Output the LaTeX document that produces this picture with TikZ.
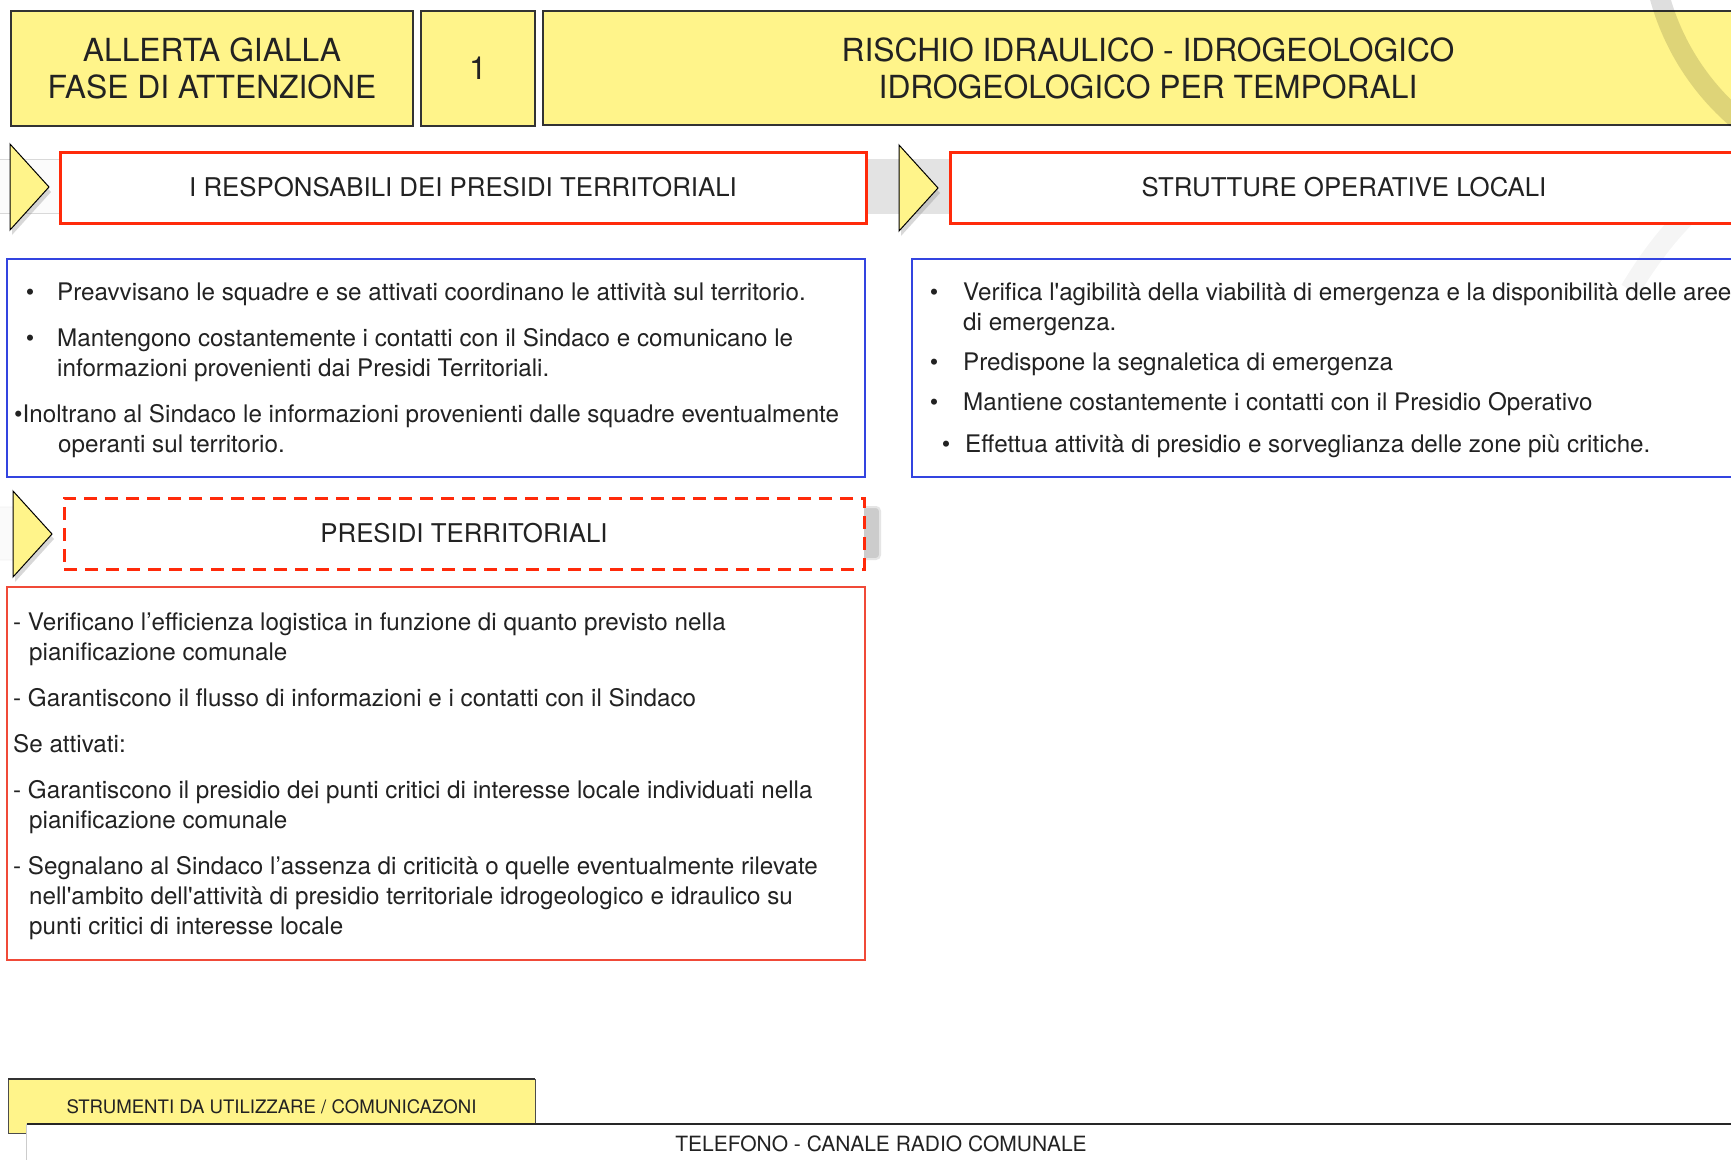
\documentclass[tikz,border=0pt]{standalone}
\usepackage{fontspec}
\setmainfont{TeX Gyre Heros}[Ligatures=TeXOff]
\usetikzlibrary{shadows}
\definecolor{alertyellow}{HTML}{FFF48A}
\definecolor{framered}{HTML}{FF2A0A}
\definecolor{softred}{HTML}{F04A38}
\definecolor{frameblue}{HTML}{3344E0}
\definecolor{inkgray}{HTML}{222222}
\begin{document}
\begin{tikzpicture}[x=1pt, y=-1pt,
    every node/.style={text=inkgray},
    headbox/.style={draw=black!80, line width=1.5pt, fill=alertyellow, inner sep=0pt, align=center, font=\fontsize{31.8}{37}\selectfont},
    titlebar/.style={draw=framered, line width=3pt, fill=white, inner sep=0pt, font=\fontsize{25.8}{30}\selectfont},
    listframe/.style={draw=frameblue, line width=1.3pt},
    pointer/.style={draw=black, line width=1pt, fill=alertyellow, drop shadow={shadow xshift=2pt, shadow yshift=-5pt, opacity=0.3}},
    bodyline/.style={anchor=base west, inner sep=0pt, font=\fontsize{24.2}{30}\selectfont},
    dot/.style={anchor=base, inner sep=0pt, font=\fontsize{24.2}{30}\selectfont}]
    \path[use as bounding box, clip] (0,0) rectangle (1731,1159);
    \fill[white] (0,0) rectangle (1731,1159);

    % header
    \node[headbox, minimum width=402, minimum height=115] (alert) at (212,68.5) {ALLERTA GIALLA\\FASE DI ATTENZIONE};
    \node[headbox, minimum width=114, minimum height=115] (phase) at (478,68.5) {1};
    \node[headbox, minimum width=1210, minimum height=114] (risk) at (1148,68) {RISCHIO IDRAULICO - IDROGEOLOGICO\\IDROGEOLOGICO PER TEMPORALI};
    \draw[line width=20pt, black, opacity=0.13] (1897,-68) circle (246pt);
    \draw[line width=20pt, black, opacity=0.04] (1630,290) .. controls (1660,240) and (1695,200) .. (1745,170);

    % first row
    \fill[gray!22] (855,159) rectangle (955,214);
    \draw[gray!30, fill=gray!3] (-10,159) rectangle (62,213);
    \node[titlebar, minimum width=806, minimum height=71] (leaders) at (463,187.5) {I RESPONSABILI DEI PRESIDI TERRITORIALI};
    \node[titlebar, minimum width=788, minimum height=71] (units) at (1344,187.5) {STRUTTURE OPERATIVE LOCALI};

    \draw[listframe] (7,259) rectangle (865,477);
    \draw[listframe] (912,259) rectangle (1745,477);

    \node[dot] (dotA) at (30,300) {•};
    \node[bodyline] (lineA) at (57,300) {Preavvisano le squadre e se attivati coordinano le attività sul territorio.};
    \node[dot] (dotB) at (30,346) {•};
    \node[bodyline] (lineB) at (57,346) {Mantengono costantemente i contatti con il Sindaco e comunicano le};
    \node[bodyline] (lineB2) at (57,376) {informazioni provenienti dai Presidi Territoriali.};
    \node[bodyline] (lineC) at (14,422) {•Inoltrano al Sindaco le informazioni provenienti dalle squadre eventualmente};
    \node[bodyline] (lineC2) at (58,452) {operanti sul territorio.};

    \node[dot] (dotD) at (934,300) {•};
    \node[bodyline] (lineD) at (963,300) {Verifica l'agibilità della viabilità di emergenza e la disponibilità delle aree};
    \node[bodyline] (lineD2) at (963,330) {di emergenza.};
    \node[dot] (dotE) at (934,370) {•};
    \node[bodyline] (lineE) at (963,370) {Predispone la segnaletica di emergenza};
    \node[dot] (dotF) at (934,410) {•};
    \node[bodyline] (lineF) at (963,410) {Mantiene costantemente i contatti con il Presidio Operativo};
    \node[dot] (dotG) at (946,452) {•};
    \node[bodyline] (lineG) at (965,452) {Effettua attività di presidio e sorveglianza delle zone più critiche.};

    % second row
    \draw[gray!25, fill=gray!4, rounded corners=4pt] (-10,507) rectangle (20,560);
    \draw[gray!20, line width=2pt, fill=gray!40, rounded corners=4pt] (850,507) rectangle (880,559);
    \node[titlebar, dash pattern=on 13pt off 8pt, minimum width=800, minimum height=71] (posts) at (464,533.5) {PRESIDI TERRITORIALI};

    \foreach \px/\py in {10/187, 899/188, 13/534}
        \draw[pointer] (\px,\py-43) -- (\px+39,\py) -- (\px,\py+43) -- cycle;

    \draw[softred, line width=1.3pt] (7,587) rectangle (865,960);
    \node[bodyline] (taskA) at (13,630) {- Verificano l’efficienza logistica in funzione di quanto previsto nella};
    \node[bodyline] (taskA2) at (29,660) {pianificazione comunale};
    \node[bodyline] (taskB) at (13,706) {- Garantiscono il flusso di informazioni e i contatti con il Sindaco};
    \node[bodyline] (ifon) at (13,752) {Se attivati:};
    \node[bodyline] (taskC) at (13,798) {- Garantiscono il presidio dei punti critici di interesse locale individuati nella};
    \node[bodyline] (taskC2) at (29,828) {pianificazione comunale};
    \node[bodyline] (taskD) at (13,874) {- Segnalano al Sindaco l’assenza di criticità o quelle eventualmente rilevate};
    \node[bodyline] (taskD2) at (29,904) {nell'ambito dell'attività di presidio territoriale idrogeologico e idraulico su};
    \node[bodyline] (taskD3) at (29,934) {punti critici di interesse locale};

    % footer
    \draw[black!70, fill=alertyellow] (8,1079) rectangle (535,1133);
    \draw[black!80, line width=2pt] (8,1079) -- (535,1079);
    \node[font=\fontsize{18.6}{22}\selectfont] (tools) at (271.5,1107) {STRUMENTI DA UTILIZZARE / COMUNICAZONI};
    \fill[white] (26.5,1124) rectangle (1745,1170);
    \draw[gray!40] (26.5,1124) -- (26.5,1170);
    \draw[black!85, line width=2pt] (26.5,1124) -- (1745,1124);
    \node[font=\fontsize{21}{25}\selectfont] (channels) at (881,1144) {TELEFONO - CANALE RADIO COMUNALE};
\end{tikzpicture}
\end{document}
